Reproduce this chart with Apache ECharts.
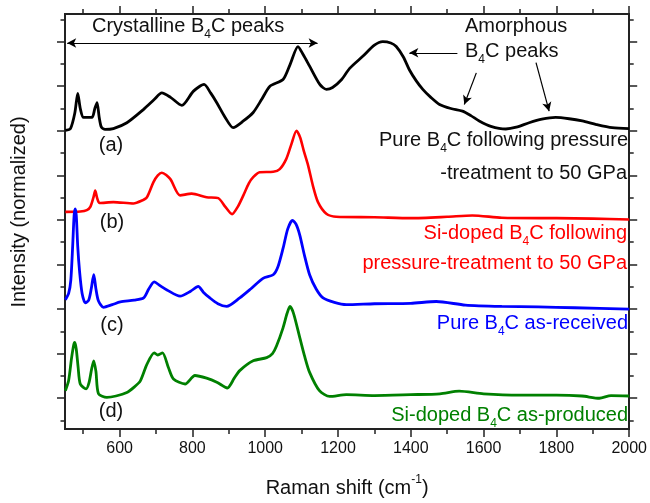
<!DOCTYPE html>
<html>
<head>
<meta charset="utf-8">
<script src="https://cdn.jsdelivr.net/npm/echarts@6/dist/echarts.min.js"></script>
<style>
  html, body { margin: 0; padding: 0; background: #fff; }
  #raman { width: 650px; height: 503px; }
</style>
</head>
<body>
<div id="raman"></div>
<script>
// Raman spectra, stacked with offsets (x = shift in cm-1, y = offset intensity)
const spectrumA = [
  [451, 6.01], [465, 6.05], [477, 6.4], [485, 6.84], [492, 6.5], [501, 6.3], [524, 6.3],
  [532, 6.5], [538, 6.63], [544, 6.3], [550, 6.08], [560, 6.03], [583, 6.05], [620, 6.18],
  [666, 6.48], [695, 6.7], [716, 6.85], [740, 6.75], [771, 6.57], [803, 6.89], [832, 7.04],
  [850, 6.85], [867, 6.63], [890, 6.3], [912, 6.07], [940, 6.22], [967, 6.41], [990, 6.7],
  [1013, 7.0], [1049, 7.15], [1068, 7.48], [1090, 7.89], [1105, 7.7], [1122, 7.45],
  [1150, 7.04], [1168, 6.93], [1185, 6.97], [1210, 7.15], [1232, 7.4], [1268, 7.67],
  [1300, 7.92], [1323, 8.0], [1345, 7.97], [1360, 7.89], [1380, 7.65], [1396, 7.37],
  [1415, 7.12], [1433, 6.93], [1455, 6.75], [1479, 6.59], [1510, 6.5], [1542, 6.44],
  [1565, 6.34], [1588, 6.22], [1620, 6.1], [1661, 6.04], [1690, 6.08], [1725, 6.18],
  [1760, 6.26], [1798, 6.3], [1835, 6.27], [1871, 6.22], [1910, 6.14], [1953, 6.07], [2000, 6.05]
];
const spectrumB = [
  [451, 4.18], [492, 4.19], [510, 4.22], [520, 4.3], [528, 4.5], [533, 4.66], [538, 4.5],
  [545, 4.38], [583, 4.4], [638, 4.37], [660, 4.43], [675, 4.51], [693, 4.85], [705, 5.0],
  [716, 5.06], [739, 4.92], [766, 4.55], [798, 4.59], [839, 4.51], [871, 4.49], [890, 4.3],
  [909, 4.13], [925, 4.3], [940, 4.55], [955, 4.82], [967, 4.96], [985, 5.07], [1022, 5.08],
  [1040, 5.14], [1058, 5.37], [1072, 5.7], [1086, 6.0], [1096, 5.85], [1106, 5.55],
  [1118, 5.22], [1131, 4.77], [1145, 4.4], [1168, 4.14], [1195, 4.07], [1300, 4.06],
  [1400, 4.04], [1500, 4.07], [1569, 4.1], [1650, 4.05], [1800, 4.04], [1900, 4.03], [2000, 4.01]
];
const spectrumC = [
  [451, 2.21], [460, 2.35], [466, 2.65], [471, 3.4], [475, 4.1], [478, 4.25], [481, 4.1],
  [485, 3.4], [490, 2.85], [497, 2.35], [506, 2.14], [515, 2.2], [522, 2.45], [529, 2.77],
  [535, 2.45], [542, 2.18], [556, 2.04], [580, 2.1], [602, 2.16], [640, 2.2], [666, 2.25],
  [680, 2.45], [695, 2.61], [712, 2.52], [730, 2.43], [766, 2.29], [795, 2.4], [816, 2.51],
  [830, 2.38], [848, 2.25], [870, 2.12], [894, 2.06], [930, 2.25], [960, 2.45], [994, 2.69],
  [1022, 2.77], [1035, 2.95], [1049, 3.36], [1062, 3.8], [1075, 3.99], [1085, 3.9],
  [1095, 3.66], [1108, 3.2], [1122, 2.77], [1140, 2.45], [1159, 2.25], [1190, 2.15],
  [1223, 2.1], [1300, 2.12], [1400, 2.13], [1470, 2.17], [1550, 2.09], [1650, 2.06],
  [1750, 2.05], [1850, 2.03], [2000, 2.0]
];
const spectrumD = [
  [451, 0.17], [460, 0.4], [468, 0.9], [474, 1.2], [477, 1.25], [481, 1.1], [486, 0.7],
  [492, 0.32], [508, 0.21], [516, 0.35], [523, 0.65], [529, 0.84], [535, 0.6], [542, 0.1],
  [565, 0.02], [590, 0.05], [620, 0.13], [640, 0.25], [657, 0.39], [675, 0.76], [695, 1.02],
  [705, 0.97], [718, 1.02], [734, 0.69], [748, 0.43], [780, 0.32], [807, 0.51], [839, 0.45],
  [867, 0.36], [896, 0.23], [915, 0.45], [930, 0.62], [967, 0.84], [1004, 0.91], [1020, 1.0],
  [1031, 1.17], [1049, 1.58], [1060, 1.9], [1068, 2.06], [1078, 1.9], [1095, 1.36],
  [1108, 0.95], [1122, 0.58], [1149, 0.17], [1177, 0.04], [1223, 0.08], [1300, 0.06],
  [1400, 0.08], [1480, 0.1], [1533, 0.16], [1600, 0.1], [1700, 0.07], [1800, 0.07],
  [1870, 0.05], [1918, 0.0], [1950, 0.06], [2000, 0.05]
];

const xMajorTicks = [600, 800, 1000, 1200, 1400, 1600, 1800, 2000];
const xMinorTicks = [500, 700, 900, 1100, 1300, 1500, 1700, 1900];
const yMajorTicks = [0, 1, 2, 3, 4, 5, 6, 7, 8];
const yMinorTicks = [-0.5, 0.5, 1.5, 2.5, 3.5, 4.5, 5.5, 6.5, 7.5, 8.5];

// annotation arrows, in data coordinates [from, to]
const crystallineArrow = [[456, 7.97], [1144, 7.97]];
const amorphousArrows = [
  [[1528, 7.75], [1396, 7.75]],
  [[1580, 7.3], [1547, 6.59]],
  [[1744, 7.53], [1780, 6.44]]
];

const chartDom = document.getElementById("raman");
const myChart = echarts.init(chartDom);

const font = "Liberation Sans";
const axisColor = "#222";

const makeX = (position, ticks, len, withLabels) => ({
  type: "value",
  min: 450,
  max: 2000,
  position: position,
  axisLine: { show: true, onZero: false, lineStyle: { color: axisColor, width: 1.8 } },
  axisTick: { show: true, customValues: ticks, length: len, lineStyle: { color: axisColor, width: 1.5 } },
  axisLabel: withLabels
    ? {
        show: true,
        customValues: xMajorTicks,
        formatter: (v) => String(v),
        margin: 12,
        color: "#111",
        fontSize: 16,
        fontFamily: font,
      }
    : { show: false },
  splitLine: { show: false },
});

const makeY = (position, ticks, len) => ({
  type: "value",
  min: -0.69,
  max: 8.62,
  position: position,
  axisLine: { show: true, onZero: false, lineStyle: { color: axisColor, width: 1.8 } },
  axisTick: { show: true, customValues: ticks, length: len, lineStyle: { color: axisColor, width: 1.5 } },
  axisLabel: { show: false },
  splitLine: { show: false },
});

const xAxes = [
  makeX("bottom", xMajorTicks, 8, true),
  makeX("bottom", xMinorTicks, 5, false),
  makeX("top", xMajorTicks, 8, false),
  makeX("top", xMinorTicks, 5, false),
];
Object.assign(xAxes[0], {
  name: "{n|Raman shift (cm}{p|-1}{n|)}",
  nameLocation: "middle",
  nameGap: 45,
  nameTextStyle: {
    rich: {
      n: { fontSize: 20, fontFamily: font, color: "#111", lineHeight: 24, verticalAlign: "bottom" },
      p: { fontSize: 12, fontFamily: font, color: "#111", lineHeight: 12, padding: [0, 0, 12, 0], verticalAlign: "bottom" },
    },
  },
});

const yAxes = [
  makeY("left", yMajorTicks, 8),
  makeY("left", yMinorTicks, 4.5),
  makeY("right", yMajorTicks, 8),
  makeY("right", yMinorTicks, 4.5),
];
Object.assign(yAxes[0], {
  name: "Intensity (normalized)",
  nameLocation: "middle",
  nameGap: 36,
  nameTextStyle: { fontSize: 20, fontFamily: font, color: "#111", padding: [0, 0, 0, 19] },
});

// rich text with B4C subscripts
const richFor = (color, size) => ({
  n: { fontSize: size, fontFamily: font, fill: color, lineHeight: 24, verticalAlign: "top" },
  s: { fontSize: 12, fontFamily: font, fill: color, lineHeight: 12, padding: [13, 0, 0, 0], verticalAlign: "top" },
});
const note = (text, x, y, color, align) => ({
  type: "text",
  x: x,
  y: y,
  silent: true,
  style: {
    text: text,
    fill: color,
    font: "20px '" + font + "'",
    align: align,
    verticalAlign: "middle",
    rich: richFor(color, 20),
  },
});

const notes = [
  note("{n|Crystalline B}{s|4}{n|C peaks}", 92, 28, "#111", "left"),
  note("{n|Amorphous}", 465, 28, "#111", "left"),
  note("{n|B}{s|4}{n|C peaks}", 465, 53, "#111", "left"),
  note("{n|Pure B}{s|4}{n|C following pressure}", 628, 142, "#111", "right"),
  note("{n|-treatment to 50 GPa}", 627, 175, "#111", "right"),
  note("{n|Si-doped B}{s|4}{n|C following}", 627, 235, "#ff0000", "right"),
  note("{n|pressure-treatment to 50 GPa}", 627, 265, "#ff0000", "right"),
  note("{n|Pure B}{s|4}{n|C as-received}", 628, 325, "#0000ff", "right"),
  note("{n|Si-doped B}{s|4}{n|C as-produced}", 628, 417, "#008000", "right"),
  note("{n|(a)}", 111, 147, "#111", "center"),
  note("{n|(b)}", 112, 224, "#111", "center"),
  note("{n|(c)}", 112, 327, "#111", "center"),
  note("{n|(d)}", 111, 413, "#111", "center"),
];

const spectrum = (name, data, color, width) => ({
  name: name,
  type: "line",
  data: data,
  smooth: 0.25,
  showSymbol: false,
  silent: true,
  lineStyle: { color: color, width: width },
  z: 3,
});

const arrowLine = (pair, bothEnds) => [
  { coord: pair[0], symbol: bothEnds ? "arrow" : "none" },
  { coord: pair[1], symbol: "arrow" },
];

const blackSeries = spectrum("a", spectrumA, "#000", 2.8);
blackSeries.markLine = {
  silent: true,
  animation: false,
  symbolSize: [7, 9],
  label: { show: false },
  lineStyle: { color: "#000", width: 1.2, type: "solid" },
  emphasis: { disabled: true },
  data: [arrowLine(crystallineArrow, true)].concat(amorphousArrows.map((p) => arrowLine(p, false))),
};

const option = {
  animation: false,
  backgroundColor: "#fff",
  grid: { left: 65, right: 19, top: 14, bottom: 71, containLabel: false },
  xAxis: xAxes,
  yAxis: yAxes,
  series: [
    blackSeries,
    spectrum("b", spectrumB, "#ff0000", 2.6),
    spectrum("c", spectrumC, "#0000ff", 2.8),
    spectrum("d", spectrumD, "#008000", 2.8),
  ],
  graphic: notes,
};

option && myChart.setOption(option);
</script>
</body>
</html>
